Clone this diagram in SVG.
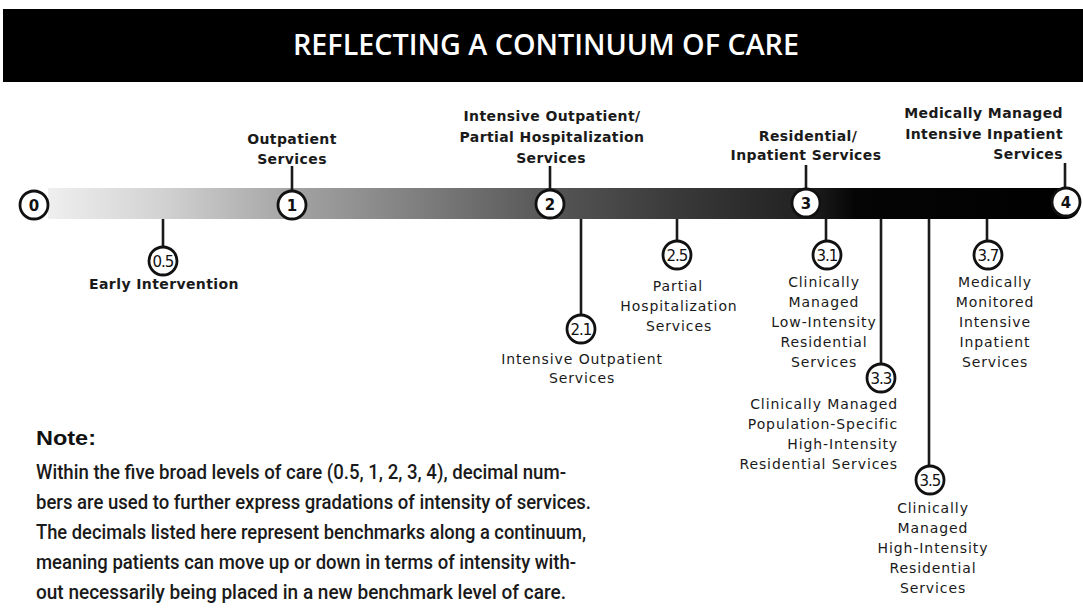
<svg xmlns="http://www.w3.org/2000/svg" width="1083" height="611" viewBox="0 0 1083 611">
  <defs>
    <linearGradient id="barGrad" gradientUnits="userSpaceOnUse" x1="48" y1="0" x2="1083" y2="0">
      <stop offset="0" stop-color="#efefef"/>
      <stop offset="0.11" stop-color="#d2d2d2"/>
      <stop offset="0.235" stop-color="#a4a4a4"/>
      <stop offset="0.36" stop-color="#7e7e7e"/>
      <stop offset="0.485" stop-color="#565656"/>
      <stop offset="0.61" stop-color="#393939"/>
      <stop offset="0.73" stop-color="#222222"/>
      <stop offset="0.78" stop-color="#050505"/>
      <stop offset="1" stop-color="#000000"/>
    </linearGradient>
    <style>
      .title { font-family: "Open Sans", "Liberation Sans", sans-serif; font-weight: 600; font-size: 29px; fill: #ffffff; text-anchor: middle; }
      .lb { font-family: "DejaVu Sans", sans-serif; font-weight: bold; font-size: 14px; letter-spacing: 0.4px; fill: #1a1a1a; text-anchor: middle; }
      .lbe { font-family: "DejaVu Sans", sans-serif; font-weight: bold; font-size: 14px; letter-spacing: 0.4px; fill: #1a1a1a; text-anchor: end; }
      .lr { font-family: "DejaVu Sans", sans-serif; font-size: 14px; letter-spacing: 0.9px; fill: #1a1a1a; text-anchor: middle; }
      .lre { font-family: "DejaVu Sans", sans-serif; font-size: 14px; letter-spacing: 0.9px; fill: #1a1a1a; text-anchor: end; }
      .main { fill: #ffffff; stroke: #111111; stroke-width: 2.8; }
      .sub { fill: #ffffff; stroke: #111111; stroke-width: 2.8; }
      .mnum { font-family: "DejaVu Sans", sans-serif; font-weight: bold; font-size: 15px; fill: #111111; text-anchor: middle; }
      .snum { font-family: "DejaVu Sans", sans-serif; font-size: 15px; letter-spacing: -1px; fill: #111111; text-anchor: middle; }
      .conn line { stroke: #1a1a1a; stroke-width: 2.6; }
      .note { font-family: Roboto, "Liberation Sans", sans-serif; font-weight: 500; font-size: 20.5px; fill: #1a1a1a; }
      .noteh { font-family: "Liberation Sans", Arial, sans-serif; font-weight: bold; font-size: 20px; fill: #111111; }
    </style>
  </defs>

  <rect x="0" y="0" width="1083" height="611" fill="#ffffff"/>

  <g id="header">
    <rect x="3" y="9" width="1080" height="73" fill="#000000"/>
    <text class="title" x="546" y="55" textLength="506" lengthAdjust="spacingAndGlyphs">REFLECTING A CONTINUUM OF CARE</text>
  </g>

  <g id="bar">
    <path d="M48,188 H1066 A14,14 0 0 1 1080,202 V205 A14,14 0 0 1 1066,219 H48 Z" fill="url(#barGrad)"/>
  </g>

  <g class="conn" id="connectors">
    <line x1="292" y1="166" x2="292" y2="191"/>
    <line x1="550" y1="166" x2="550" y2="191"/>
    <line x1="806" y1="165" x2="806" y2="191"/>
    <line x1="1065" y1="163" x2="1065" y2="190"/>
    <line x1="163" y1="219" x2="163" y2="247"/>
    <line x1="581" y1="219" x2="581" y2="315"/>
    <line x1="677" y1="219" x2="677" y2="241"/>
    <line x1="826" y1="219" x2="826" y2="241"/>
    <line x1="881" y1="219" x2="881" y2="364"/>
    <line x1="929" y1="219" x2="929" y2="466"/>
    <line x1="987" y1="219" x2="987" y2="241"/>
  </g>

  <g id="level-0">
    <circle class="main" cx="34" cy="205" r="14"/>
    <text class="mnum" x="34" y="210.5">0</text>
  </g>

  <g id="level-1">
    <circle class="main" cx="292" cy="205" r="14"/>
    <text class="mnum" x="292" y="210.5">1</text>
    <text class="lb" x="292" y="144">Outpatient</text>
    <text class="lb" x="292" y="164">Services</text>
  </g>

  <g id="level-2">
    <circle class="main" cx="550" cy="204" r="14"/>
    <text class="mnum" x="550" y="209.5">2</text>
    <text class="lb" x="552" y="121">Intensive Outpatient/</text>
    <text class="lb" x="552" y="142">Partial Hospitalization</text>
    <text class="lb" x="551" y="163">Services</text>
  </g>

  <g id="level-3">
    <circle class="main" cx="806" cy="203" r="14"/>
    <text class="mnum" x="806" y="208.5">3</text>
    <text class="lb" x="808" y="141">Residential/</text>
    <text class="lb" x="806" y="160">Inpatient Services</text>
  </g>

  <g id="level-4">
    <circle class="main" cx="1066" cy="202" r="14"/>
    <text class="mnum" x="1066" y="207.5">4</text>
    <text class="lbe" x="1063" y="118">Medically Managed</text>
    <text class="lbe" x="1063" y="139">Intensive Inpatient</text>
    <text class="lbe" x="1063" y="159">Services</text>
  </g>

  <g id="level-0-5">
    <circle class="sub" cx="163" cy="261" r="14"/>
    <text class="snum" x="163" y="266.5">0.5</text>
    <text class="lb" x="164" y="289">Early Intervention</text>
  </g>

  <g id="level-2-1">
    <circle class="sub" cx="581" cy="329" r="14"/>
    <text class="snum" x="581" y="334.5">2.1</text>
    <text class="lr" x="582" y="364">Intensive Outpatient</text>
    <text class="lr" x="582" y="383">Services</text>
  </g>

  <g id="level-2-5">
    <circle class="sub" cx="677" cy="255" r="14"/>
    <text class="snum" x="677" y="260.5">2.5</text>
    <text class="lr" x="678" y="291">Partial</text>
    <text class="lr" x="679" y="311">Hospitalization</text>
    <text class="lr" x="679" y="331">Services</text>
  </g>

  <g id="level-3-1">
    <circle class="sub" cx="827" cy="255" r="14"/>
    <text class="snum" x="827" y="260.5">3.1</text>
    <text class="lr" x="824" y="287">Clinically</text>
    <text class="lr" x="824" y="307">Managed</text>
    <text class="lr" x="824" y="327">Low-Intensity</text>
    <text class="lr" x="824" y="347">Residential</text>
    <text class="lr" x="824" y="367">Services</text>
  </g>

  <g id="level-3-3">
    <circle class="sub" cx="881" cy="378" r="14"/>
    <text class="snum" x="881" y="383.5">3.3</text>
    <text class="lre" x="898" y="409">Clinically Managed</text>
    <text class="lre" x="898" y="429">Population-Specific</text>
    <text class="lre" x="898" y="449">High-Intensity</text>
    <text class="lre" x="898" y="469">Residential Services</text>
  </g>

  <g id="level-3-5">
    <circle class="sub" cx="930" cy="480" r="14"/>
    <text class="snum" x="930" y="485.5">3.5</text>
    <text class="lr" x="933" y="513">Clinically</text>
    <text class="lr" x="933" y="533">Managed</text>
    <text class="lr" x="933" y="553">High-Intensity</text>
    <text class="lr" x="933" y="573">Residential</text>
    <text class="lr" x="933" y="593">Services</text>
  </g>

  <g id="level-3-7">
    <circle class="sub" cx="988" cy="255" r="14"/>
    <text class="snum" x="988" y="260.5">3.7</text>
    <text class="lr" x="995" y="287">Medically</text>
    <text class="lr" x="995" y="307">Monitored</text>
    <text class="lr" x="995" y="327">Intensive</text>
    <text class="lr" x="995" y="347">Inpatient</text>
    <text class="lr" x="995" y="367">Services</text>
  </g>

  <g id="note">
    <text class="noteh" x="36" y="445" textLength="60" lengthAdjust="spacingAndGlyphs">Note:</text>
    <text class="note" x="36" y="479" textLength="530" lengthAdjust="spacingAndGlyphs">Within the five broad levels of care (0.5, 1, 2, 3, 4), decimal num-</text>
    <text class="note" x="36" y="509" textLength="555" lengthAdjust="spacingAndGlyphs">bers are used to further express gradations of intensity of services.</text>
    <text class="note" x="36" y="539" textLength="550" lengthAdjust="spacingAndGlyphs">The decimals listed here represent benchmarks along a continuum,</text>
    <text class="note" x="36" y="569" textLength="540" lengthAdjust="spacingAndGlyphs">meaning patients can move up or down in terms of intensity with-</text>
    <text class="note" x="36" y="599" textLength="530" lengthAdjust="spacingAndGlyphs">out necessarily being placed in a new benchmark level of care.</text>
  </g>
</svg>
